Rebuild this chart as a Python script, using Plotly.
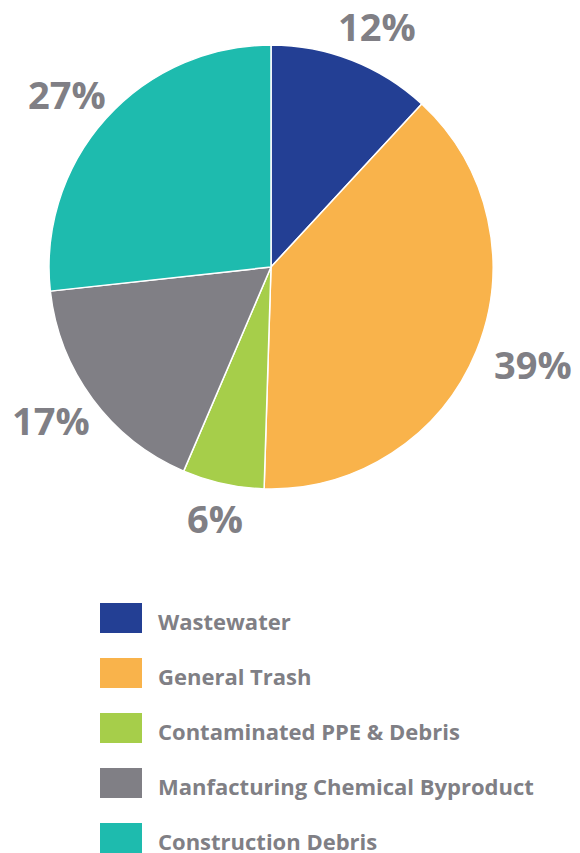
import math
import plotly.graph_objects as go

categories = ["Wastewater", "General Trash", "Contaminated PPE & Debris",
              "Manfacturing Chemical Byproduct", "Construction Debris"]
values = [12, 39, 6, 17, 27]
colors = ["#233F94", "#F9B34B", "#A6CE4A", "#807F85", "#1EBBAE"]

GRAY = "#807F85"
FONT = "Open Sans"

W, H = 580, 853
OFF = 8  # page body margin offset
cx, cy, r = 271 - OFF, 267 - OFF, 222

fig = go.Figure()
fig.add_trace(go.Pie(
    labels=categories,
    values=values,
    marker=dict(colors=colors, line=dict(color="white", width=1.5)),
    sort=False,
    direction="clockwise",
    rotation=0,
    textinfo="none",
    showlegend=False,
    hoverinfo="label+value",
    domain=dict(x=[(cx - r) / W, (cx + r) / W],
                y=[(H - cy - r) / H, (H - cy + r) / H]),
))

annotations = []
shapes = []

# Percent labels placed outside each slice along its mid-angle (derived from the values)
total = sum(values)
cum = 0
rx_lab, ry_lab = 279, 258
for v in values:
    mid = (cum + v / 2) / total * 2 * math.pi
    cum += v
    lx = cx + rx_lab * math.sin(mid) + 4
    ly = cy - ry_lab * math.cos(mid) - 1
    annotations.append(dict(text=f"{v}%", xref="paper", yref="paper",
                            x=lx / W, y=1 - ly / H,
                            xanchor="center", yanchor="middle", showarrow=False,
                            font=dict(family=FONT, size=38, color=GRAY, weight="bold")))

# Custom legend built from the category list
leg_top = 618 - OFF
step = 55
for i, (cat, col) in enumerate(zip(categories, colors)):
    yc = leg_top + i * step
    shapes.append(dict(type="rect", xref="paper", yref="paper",
                       x0=(100 - OFF) / W, x1=(142 - OFF) / W,
                       y0=1 - (yc + 15) / H, y1=1 - (yc - 15) / H,
                       fillcolor=col, line=dict(width=0)))
    annotations.append(dict(text=cat, xref="paper", yref="paper",
                            x=(156 - OFF) / W, y=1 - (yc + 3) / H,
                            xanchor="left", yanchor="middle", showarrow=False,
                            font=dict(family=FONT, size=22, color=GRAY, weight="bold")))

fig.update_layout(
    width=W, height=H,
    margin=dict(l=0, r=0, t=0, b=0),
    paper_bgcolor="white",
    plot_bgcolor="white",
    shapes=shapes,
    annotations=annotations,
)

fig.write_html("out.html")
